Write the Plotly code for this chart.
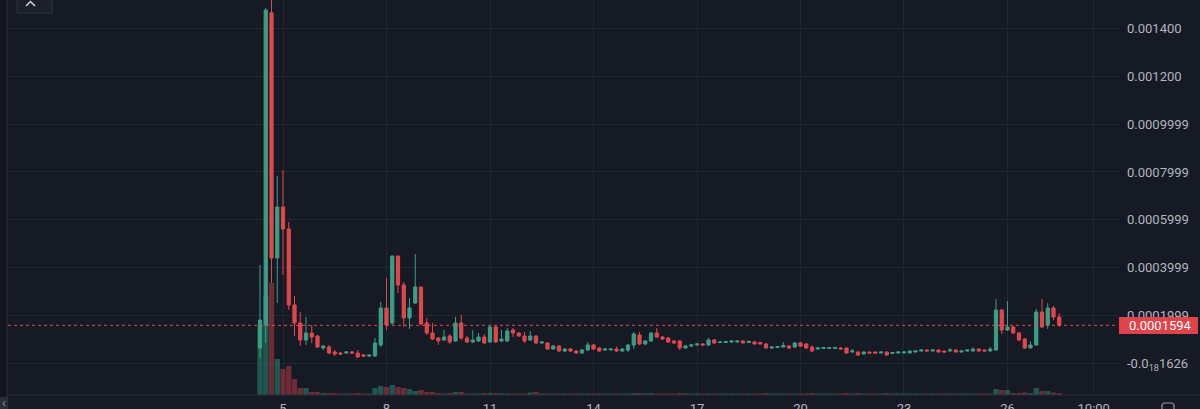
import pandas as pd
import plotly.graph_objects as go

# ---- data (prices in micro-units, 1e-6) ----
open_u = [64.7,160.8,1465,440.7,653.7,561.8,244.4,169.2,98.2,127.4,
          114.9,64.7,68.9,48.0,43.9,43.9,48.0,43.9,35.5,31.3,
          31.3,77.3,231.8,169.2,449.0,327.9,190.1,252.7,319.5,169.2,
          127.4,106.5,98.2,114.9,94.0,169.2,106.5,89.8,94.0,110.7,
          89.8,152.5,94.0,94.0,139.9,127.4,114.9,98.2,114.9,85.6,
          85.6,60.6,73.1,52.2,60.6,52.2,43.9,56.4,77.3,64.7,
          56.4,56.4,60.6,52.2,56.4,77.3,119.0,81.5,94.0,127.4,
          110.7,106.5,94.0,94.0,64.7,73.1,77.3,81.5,77.3,98.2,
          87.7,87.7,89.8,89.8,94.0,87.7,89.8,87.7,81.5,64.7,
          66.8,68.9,73.1,68.9,85.6,81.5,68.9,60.6,62.7,62.7,
          62.7,64.7,64.7,48.0,48.0,39.7,48.0,48.0,43.9,48.0,
          41.8,43.9,43.9,43.9,48.0,52.2,56.4,52.2,56.4,52.2,
          52.2,56.4,48.0,52.2,52.2,60.6,56.4,52.2,56.4,223.5,
          139.9,152.5,127.4,102.3,64.7,77.3,215.1,160.8,231.8,194.2]
high_u = [411.4,1485,1540,783.2,808.2,591.0,282.0,215.1,194.2,160.8,
          119.0,77.3,77.3,56.4,48.0,52.2,52.2,56.4,39.7,35.5,
          106.5,256.9,357.1,449.0,449.0,340.4,273.6,457.4,319.5,190.1,
          169.2,110.7,139.9,123.2,194.2,202.5,114.9,139.9,127.4,123.2,
          156.6,156.6,139.9,148.3,148.3,131.6,131.6,135.7,119.0,94.0,
          89.8,77.3,77.3,64.7,64.7,56.4,60.6,89.8,81.5,68.9,
          64.7,64.7,71.0,64.7,81.5,131.6,131.6,98.2,131.6,148.3,
          114.9,110.7,98.2,98.2,77.3,81.5,85.6,85.6,106.5,102.3,
          94.0,94.0,98.2,96.0,96.0,96.0,94.0,89.8,85.6,73.1,
          73.1,89.8,77.3,89.8,89.8,85.6,75.2,68.9,68.9,68.9,
          68.9,68.9,66.8,60.6,52.2,50.0,50.0,50.0,50.0,50.0,
          48.0,50.0,50.0,54.3,54.3,58.5,58.5,58.5,58.5,54.3,
          64.7,58.5,54.3,58.5,66.8,62.7,58.5,68.9,269.4,227.6,
          260.9,156.6,131.6,106.5,91.9,227.6,269.4,252.7,240.2,210.9]
low_u = [23.0,85.6,336.0,252.7,369.7,223.5,114.9,73.1,77.3,85.6,
         64.7,56.4,39.7,31.3,35.5,39.7,39.7,23.0,27.2,27.2,
         27.2,68.9,139.9,160.8,294.5,152.5,144.1,248.5,160.8,119.0,
         98.2,77.3,94.0,81.5,89.8,98.2,85.6,85.6,89.8,81.5,
         85.6,85.6,89.8,89.8,110.7,110.7,85.6,94.0,81.5,81.5,
         56.4,56.4,48.0,48.0,48.0,39.7,39.7,52.2,56.4,48.0,
         52.2,56.4,48.0,48.0,48.0,60.6,77.3,77.3,89.8,106.5,
         98.2,85.6,81.5,56.4,60.6,68.9,73.1,73.1,73.1,81.5,
         85.6,85.6,85.6,87.7,83.5,85.6,79.4,79.4,60.6,60.6,
         64.7,66.8,60.6,64.7,68.9,60.6,48.0,58.5,60.6,60.6,
         60.6,56.4,39.7,45.9,31.3,37.6,41.8,39.7,41.8,33.4,
         39.7,41.8,41.8,41.8,45.9,50.0,50.0,50.0,45.9,45.9,
         50.0,45.9,45.9,50.0,50.0,50.0,50.0,50.0,54.3,123.2,
         135.7,123.2,94.0,60.6,62.7,73.1,148.3,144.1,181.7,152.5]
close_u = [181.7,1476.6,440.7,653.7,561.8,244.4,169.2,98.2,127.4,110.7,
           68.9,73.1,43.9,39.7,39.7,48.0,43.9,27.2,31.3,35.5,
           85.6,231.8,160.8,449.0,327.9,190.1,231.8,319.5,165.0,127.4,
           102.3,94.0,110.7,89.8,169.2,106.5,89.8,98.2,110.7,85.6,
           152.5,89.8,102.3,135.7,127.4,114.9,94.0,114.9,85.6,89.8,
           60.6,73.1,52.2,60.6,52.2,43.9,56.4,77.3,60.6,52.2,
           60.6,60.6,52.2,60.6,77.3,123.2,81.5,94.0,127.4,110.7,
           102.3,89.8,85.6,64.7,73.1,77.3,81.5,77.3,98.2,85.6,
           89.8,91.9,94.0,94.0,85.6,91.9,81.5,81.5,64.7,68.9,
           71.0,75.2,64.7,85.6,73.1,64.7,52.2,64.7,66.8,66.8,
           66.8,60.6,43.9,52.2,35.5,48.0,43.9,43.9,48.0,35.5,
           45.9,48.0,48.0,52.2,52.2,56.4,52.2,56.4,48.0,48.0,
           56.4,48.0,52.2,56.4,60.6,52.2,52.2,60.6,223.5,139.9,
           152.5,127.4,98.2,64.7,77.3,215.1,152.5,231.8,194.2,159.4]
volume_k = [70,100,112,36,26,29,16,7,7,3,
            3,2,2,2,1.5,1.5,1.5,2,1.5,1.5,
            7,9,8,10,8,7,6,4,5,3,
            3,2,1.5,2,3,3,1.5,1.5,1.5,2,
            2,2,1.5,1.5,1.5,1.5,1.5,2.5,3,1.5,
            1.5,1.5,1.5,1.5,1.5,1.5,1.5,1.5,1.5,1.5,
            1.5,1.5,1.5,1.5,1.5,2,2,1.5,2,1.5,
            1.5,1.5,1.5,2,1.5,1.5,1.5,1.5,1.5,1.5,
            1.5,1.5,1.5,1.5,1.5,1.5,1.5,1.5,2,1.5,
            1.5,1.5,1.5,1.5,1.5,1.5,2,1.5,1.5,1.5,
            1.5,1.5,2,1.5,2,1.5,1.5,1.5,1.5,2,
            1.5,1.5,1.5,1.5,1.5,1.5,1.5,1.5,1.5,1.5,
            1.5,1.5,1.5,1.5,1.5,1.5,1.5,1.5,6,5,
            5,2,2,2.5,2,7,4,4,2.5,2]
last_price = 0.0001594

y_tickvals = [0.0, 0.0002, 0.0004, 0.0006, 0.0008, 0.0010, 0.0012, 0.0014]
y_ticktext = ["-0.0<sub>18</sub>1626", "0.0001999", "0.0003999", "0.0005999",
              "0.0007999", "0.0009999", "0.001200", "0.001400"]
x_tick_times = ["2024-03-05 00:00", "2024-03-08 00:00", "2024-03-11 00:00", "2024-03-14 00:00",
                "2024-03-17 00:00", "2024-03-20 00:00", "2024-03-23 00:00", "2024-03-26 00:00",
                "2024-03-28 12:00"]
x_ticktext = ["5", "8", "11", "14", "17", "20", "23", "26", "10:00"]

# ---- build ----
U = 1e-6
opens = [v * U for v in open_u]
highs = [v * U for v in high_u]
lows = [v * U for v in low_u]
closes = [v * U for v in close_u]
times = pd.date_range("2024-03-04 08:00", periods=len(opens), freq="4h")

BG = "#161a25"
GRID = "#232733"
UP = "#3a9f85"
DN = "#e2474d"
UPV = "rgba(38,140,115,0.55)"
DNV = "rgba(200,60,70,0.5)"
TXT = "#b2b5be"

vol_colors = [UPV if c >= o else DNV for o, c in zip(opens, closes)]
step = pd.Timedelta(hours=4)

fig = go.Figure()
fig.add_trace(go.Bar(x=times, y=volume_k, marker=dict(color=vol_colors, line=dict(width=0)),
                     width=4 * 3600 * 1000 * 0.92, yaxis="y", hoverinfo="skip"))
fig.add_trace(go.Candlestick(x=times, open=opens, high=highs, low=lows, close=closes,
                             increasing=dict(line=dict(color=UP, width=1), fillcolor=UP),
                             decreasing=dict(line=dict(color=DN, width=1), fillcolor=DN),
                             whiskerwidth=0, yaxis="y2"))

t0 = times[0]
xr = [t0 - step * 43.83, t0 + step * 149.22]
tickvals_x = [pd.Timestamp(s) for s in x_tick_times]

fig.update_layout(
    width=1200, height=409, autosize=False,
    margin=dict(l=8, r=82, t=0, b=14),
    paper_bgcolor=BG, plot_bgcolor=BG,
    showlegend=False, boxgap=0.2,
    font=dict(family="Roboto, sans-serif", size=13, color=TXT),
    xaxis=dict(type="date", range=xr, tickvals=tickvals_x, ticktext=x_ticktext, automargin=False,
               showgrid=True, gridcolor=GRID, gridwidth=1, zeroline=False, showline=False,
               rangeslider=dict(visible=False), ticks="", tickfont=dict(size=13, color=TXT),
               ticklabelstandoff=4),
    yaxis=dict(range=[0, 395], visible=False, showgrid=False, fixedrange=True, automargin=False),
    yaxis2=dict(overlaying="y", side="right", range=[-0.0001316, 0.0015184], automargin=False,
                tickvals=y_tickvals, ticktext=y_ticktext, showgrid=True, gridcolor=GRID,
                zeroline=False, showline=False, ticks="", tickfont=dict(size=13, color=TXT),
                ticklabelstandoff=8),
)

# price line
fig.add_shape(type="line", xref="paper", yref="y2", x0=0, x1=1, y0=last_price, y1=last_price,
              line=dict(color="#e8454c", width=1, dash="dot"))
# price label box
fig.add_shape(type="rect", xref="paper", yref="paper", x0=1 + 1 / 1110, x1=1 + 80 / 1110,
              y0=61 / 395, y1=78 / 395, fillcolor="#e0434a", line=dict(width=0), layer="above")
fig.add_annotation(xref="paper", yref="y2", x=1, y=last_price, xanchor="left", yanchor="middle",
                   xshift=9, text="0.0001594", showarrow=False, font=dict(color="#ffffff", size=13))

# time axis separator
fig.add_shape(type="line", xref="paper", yref="paper", x0=-8 / 1110, x1=1 + 82 / 1110, y0=0, y1=0,
              line=dict(color="#2a2e39", width=1))
# left border strip
fig.add_shape(type="rect", xref="paper", yref="paper", x0=-8 / 1110, x1=-1 / 1110, y0=-14 / 395, y1=1,
              fillcolor="#12151e", line=dict(width=0))
fig.add_shape(type="line", xref="paper", yref="paper", x0=-1 / 1110, x1=-1 / 1110, y0=-14 / 395, y1=1,
              line=dict(color="#2a2e39", width=1))
# top-left collapse button
fig.add_shape(type="rect", xref="paper", yref="paper", x0=9 / 1110, x1=44 / 1110,
              y0=(395 - 13) / 395, y1=1.02, fillcolor="#1c202b", line=dict(color="#2e3241", width=1))
fig.add_shape(type="path", xref="paper", yref="paper",
              path=f"M {18/1110} {(395-6)/395} L {22.5/1110} {(395-1.5)/395} L {27/1110} {(395-6)/395}",
              line=dict(color="#d1d4dc", width=1.5))
# bottom-left arrow button
fig.add_shape(type="rect", xref="paper", yref="paper", x0=-8 / 1110, x1=0, y0=-14 / 395, y1=-2 / 395,
              fillcolor="#2a2e39", line=dict(width=0))
fig.add_annotation(xref="paper", yref="paper", x=-4 / 1110, y=-8 / 395, text="‹", showarrow=False,
                   font=dict(size=12, color="#9598a1"), xanchor="center", yanchor="middle")
# bottom-right icon
fig.add_shape(type="path", xref="paper", yref="paper",
              path=f"M {1+44/1110} {-14/395} L {1+44/1110} {-11/395} Q {1+44/1110} {-8/395} {1+47/1110} {-8/395} "
                   f"L {1+53/1110} {-8/395} Q {1+56/1110} {-8/395} {1+56/1110} {-11/395} L {1+56/1110} {-14/395}",
              line=dict(color="#9598a1", width=1.2))

fig.write_html("out.html", config=dict(displayModeBar=False, responsive=False),
               post_script="document.body.style.margin='0';document.body.style.overflow='hidden';")
